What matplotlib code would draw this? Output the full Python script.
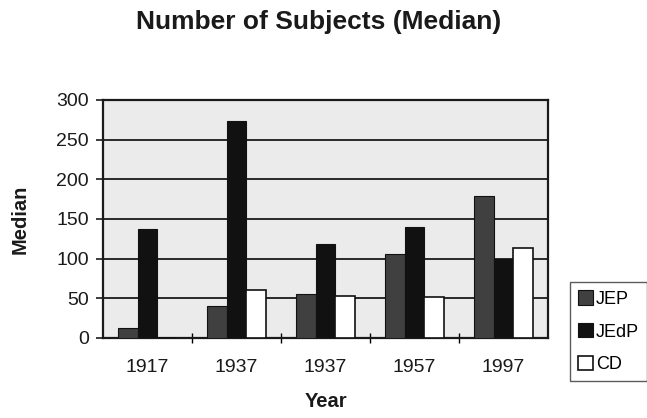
import numpy as np
import matplotlib.pyplot as plt

plt.rcParams['font.family'] = ['Liberation Sans', 'DejaVu Sans']

years = ['1917', '1937', '1937', '1957', '1997']
jep = [13, 40, 56, 106, 179]
jedp = [137, 273, 118, 140, 99]
cd = [0, 61, 53, 52, 114]

fig = plt.figure(figsize=(6.47, 4.18), dpi=100)
ax = fig.add_axes([0.1592, 0.1914, 0.6878, 0.5694])
ax.set_facecolor('#ebebeb')

x = np.arange(len(years))
w = 0.22
ax.bar(x - w, jep, w, color='#404040', edgecolor='#111111', linewidth=0.8, label='JEP', zorder=3)
ax.bar(x, jedp, w, color='#111111', edgecolor='#111111', linewidth=0.8, label='JEdP', zorder=3)
ax.bar(x + w, cd, w, color='white', edgecolor='#111111', linewidth=1.2, label='CD', zorder=3)

ax.set_xlim(-0.5, len(years) - 0.5)
ax.set_ylim(0, 300)
ax.set_yticks(np.arange(0, 301, 50))
ax.yaxis.grid(True, color='#1a1a1a', linewidth=1.3, zorder=1)
ax.set_axisbelow(True)

ax.set_xticks(x)
ax.set_xticklabels(years)
ax.set_xticks(x[:-1] + 0.5, minor=True)
ax.tick_params(axis='x', which='major', length=0, pad=15, labelsize=14, colors='#1a1a1a')
ax.tick_params(axis='x', which='minor', direction='inout', length=7, width=1)
ax.tick_params(axis='y', length=5, width=1.2, pad=5, labelsize=14, colors='#1a1a1a')

for s in ax.spines.values():
    s.set_linewidth(1.6)
    s.set_color('#1a1a1a')

ax.set_xlabel('Year', fontsize=14.5, fontweight='bold', labelpad=12, color='#1a1a1a')
ax.set_ylabel('Median', fontsize=14.5, fontweight='bold', labelpad=19, color='#1a1a1a')
fig.text(0.493, 0.931, 'Number of Subjects (Median)', ha='center', va='baseline',
         fontsize=19, fontweight='bold', color='#1a1a1a')

leg = fig.legend(loc='upper left', bbox_to_anchor=(0.881, 0.325), fontsize=13,
                 frameon=True, fancybox=False, edgecolor='#333333',
                 handlelength=0.85, handleheight=0.85, handletextpad=0.15,
                 labelspacing=0.85, borderpad=0.45, borderaxespad=0)
leg.get_frame().set_linewidth(1.0)

fig.savefig('out.png', dpi=100)
